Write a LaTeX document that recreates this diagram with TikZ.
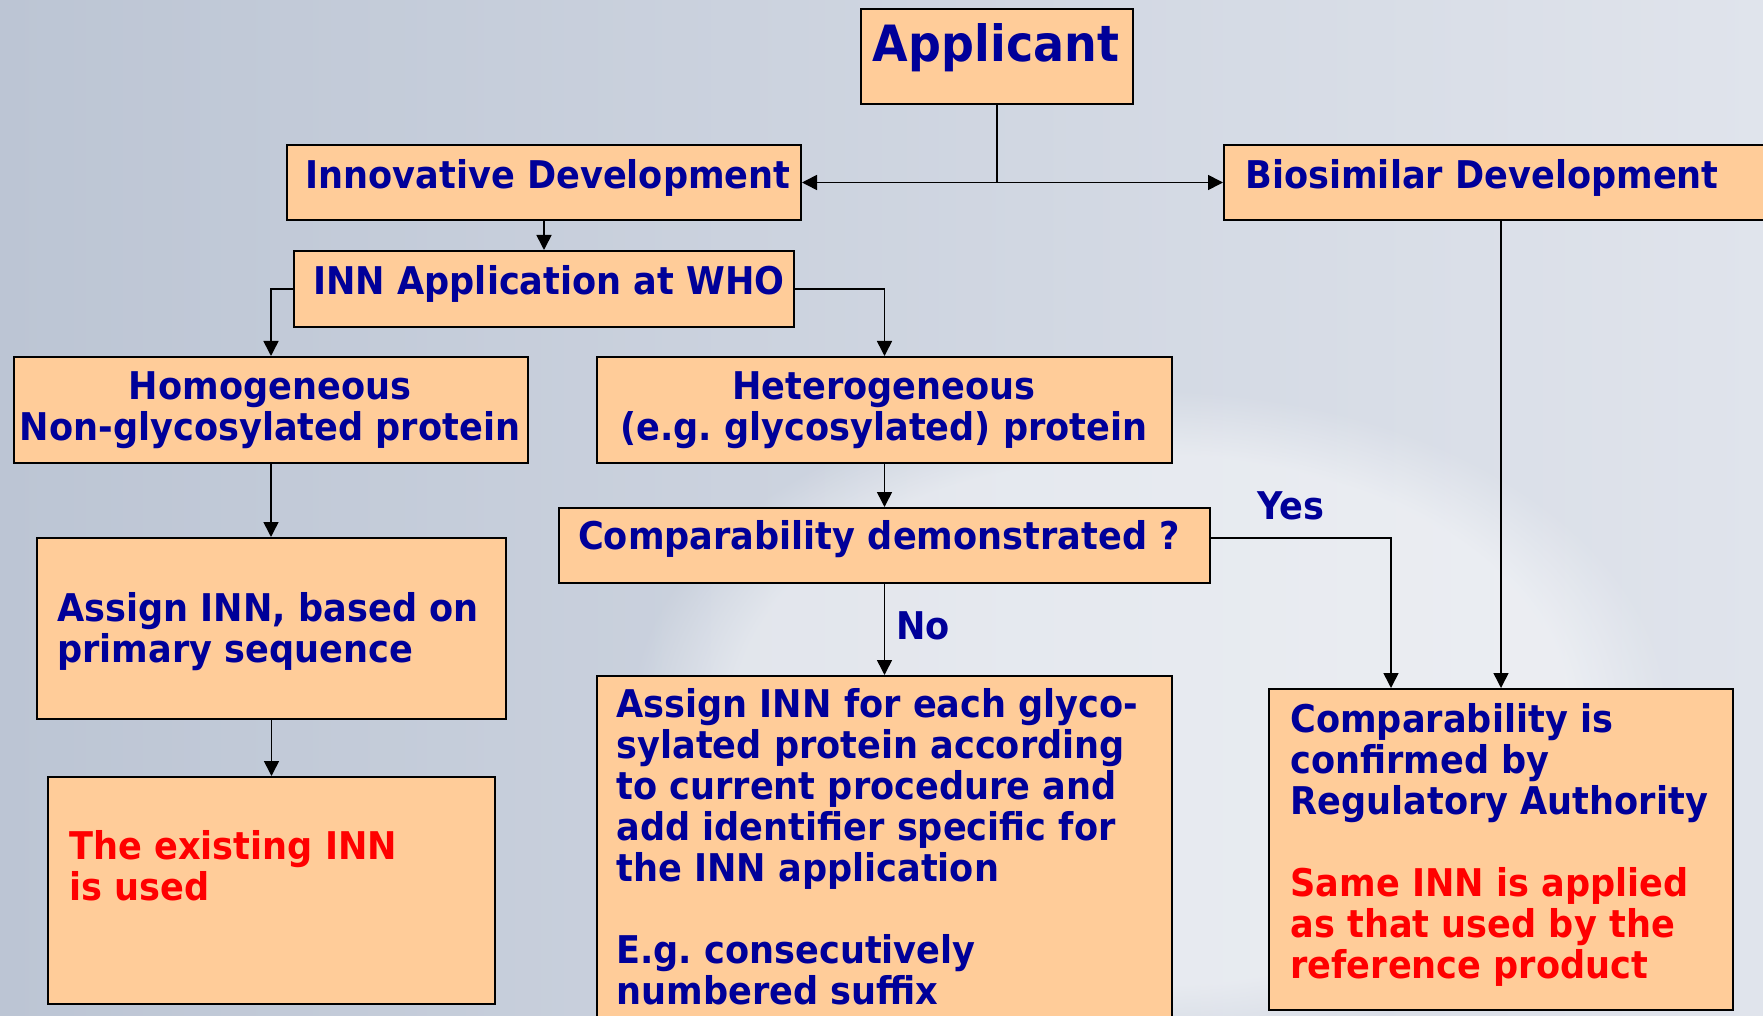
\documentclass[tikz,border=0pt]{standalone}
\usepackage{fontspec}
\setmainfont{DejaVu Sans}[FakeStretch=0.92]
\usepackage{xcolor}
\usepackage{tikz}
\usetikzlibrary{arrows.meta, fadings}
\definecolor{peach}{RGB}{255,204,153}
\definecolor{inkblue}{RGB}{0,0,153}
\definecolor{bgleft}{RGB}{188,197,212}
\definecolor{bgright}{RGB}{224,228,236}
\tikzstyle{box} = [rectangle, draw=black, line width=1pt, fill=peach, inner sep=0pt, anchor=north west]
\tikzstyle{boxtext} = [inner sep=0pt, text=inkblue, font=\bfseries\fontsize{19.1pt}{20.5pt}\selectfont]
\tikzstyle{redtext} = [boxtext, text=red]
\tikzstyle{arrow} = [line width=0.8pt, -{Triangle[length=7.5pt, width=7.5pt]}]
\frenchspacing

\begin{document}
\begin{tikzpicture}[x=0.5pt, y=-0.5pt]

        % Background
        \useasboundingbox (0,0) rectangle (1763,1016);
        \shade[left color=bgleft, right color=bgright] (0,0) rectangle (1763,1016);
        \fill[white, opacity=0.45, path fading=circle with fuzzy edge 20 percent] (1150,720) ellipse (520 and 330);

        % Boxes
        \node (app) [box, minimum width=136pt, minimum height=47.5pt] at (860,8) {};
        \node (innov) [box, minimum width=257pt, minimum height=37.5pt] at (286,144) {};
        \node (bio) [box, minimum width=277pt, minimum height=37.5pt] at (1223,144) {};
        \node (who) [box, minimum width=250pt, minimum height=38pt] at (293,250) {};
        \node (homo) [box, minimum width=257pt, minimum height=53pt] at (13,356) {};
        \node (hetero) [box, minimum width=287.5pt, minimum height=53pt] at (596,356) {};
        \node (cmpdem) [box, minimum width=325.5pt, minimum height=37.5pt] at (558,507) {};
        \node (assign1) [box, minimum width=234.5pt, minimum height=90.5pt] at (36,537) {};
        \node (existing) [box, minimum width=223.5pt, minimum height=113.5pt] at (47,776) {};
        \node (assign2) [box, minimum width=287.5pt, minimum height=180pt] at (596,675) {};
        \node (confirm) [box, minimum width=232pt, minimum height=160.5pt] at (1268,688) {};

        % Texts
        \node (apptext) [boxtext, font=\bfseries\fontsize{25pt}{28pt}\selectfont] at (996,48) {Applicant};
        \node (innovtext) [boxtext] at (548,177.5) {Innovative Development};
        \node (biotext) [boxtext, anchor=west] at (1245,177.5) {Biosimilar Development};
        \node (whotext) [boxtext] at (549,283.5) {INN Application at WHO};
        \node (homotext) [boxtext, align=center] at (270,410) {Homogeneous\\Non-glycosylated protein};
        \node (heterotext) [boxtext, align=center] at (884,410) {Heterogeneous\\(e.g. glycosylated) protein};
        \node (cmpdemtext) [boxtext] at (879,539.5) {Comparability demonstrated ?};
        \node (assign1text) [boxtext, anchor=west, align=left] at (57,632) {Assign INN, based on\\primary sequence};
        \node (existingtext) [redtext, anchor=west, align=left] at (69,865.5) {The existing INN\\is used};
        \node (assign2text) [boxtext, anchor=west, align=left] at (616,846.5) {Assign INN for each glyco-\\sylated protein according\\to current procedure and\\add identifier specific for\\the INN application\\[20.5pt]E.g. consecutively\\numbered suffix};
        \node (confirmtext) [boxtext, anchor=west, align=left] at (1290,845) {Comparability is\\confirmed by\\Regulatory Authority\\[20.5pt]\textcolor{red}{Same INN is applied}\\\textcolor{red}{as that used by the}\\\textcolor{red}{reference product}};
        \node (yeslbl) [boxtext, anchor=west] at (1257,506) {Yes};
        \node (nolbl) [boxtext, anchor=west] at (896,626) {No};

        % Arrows
        \draw [arrow] (app.south) |- (innov.east);
        \draw [arrow] (app.south) |- (bio.west);
        \draw [arrow] (innov.south) -- (who.north);
        \draw [arrow] (who.west) -| (homo.north);
        \draw [arrow] (who.east) -| (hetero.north);
        \draw [arrow] (homo.south) -- (homo.south |- assign1.north);
        \draw [arrow] (assign1.south) -- (existing.north);
        \draw [arrow] (hetero.south) -- (cmpdem.north);
        \draw [arrow] (cmpdem.south) -- (assign2.north);
        \draw [arrow] ([yshift=3.75pt]cmpdem.east) -| ([xshift=-55pt]confirm.north);
        \draw [arrow] (bio.south) -- (confirm.north);

    \end{tikzpicture}
\end{document}
